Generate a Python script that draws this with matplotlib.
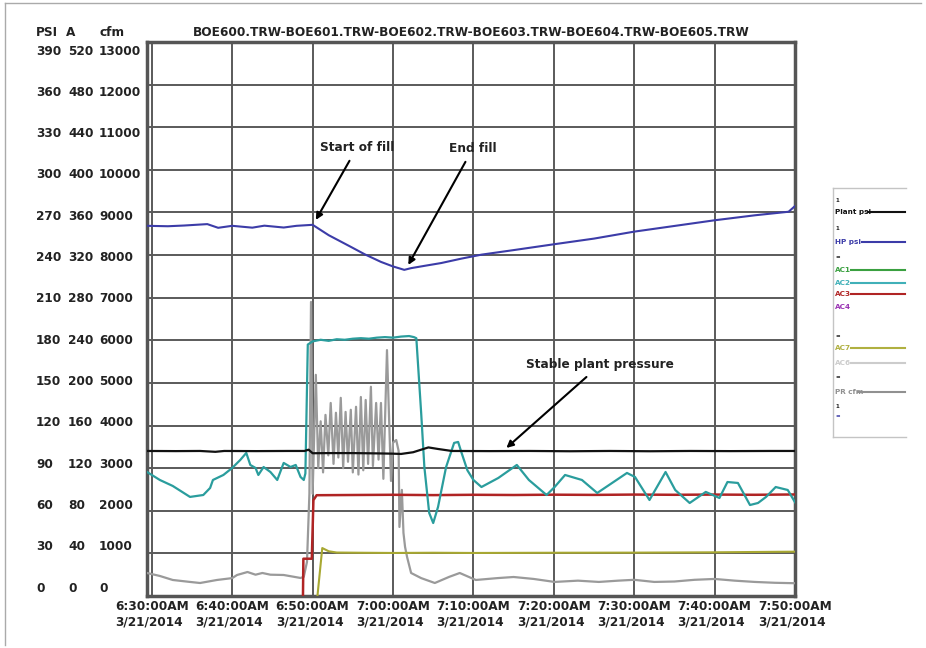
import matplotlib
matplotlib.use('Agg')
import matplotlib.pyplot as plt
import matplotlib.transforms as mtransforms
from matplotlib.lines import Line2D

# time axis: minutes after 6:30:00AM on 3/21/2014
tick_minutes = [0, 10, 20, 30, 40, 50, 60, 70, 80]
tick_times = ['6:30:00AM', '6:40:00AM', '6:50:00AM', '7:00:00AM', '7:10:00AM',
              '7:20:00AM', '7:30:00AM', '7:40:00AM', '7:50:00AM']
tick_date = '3/21/2014'
cfm_ticks = [13000, 12000, 11000, 10000, 9000, 8000, 7000, 6000, 5000, 4000, 3000, 2000, 1000, 0]
psi_labels = ['390', '360', '330', '300', '270', '240', '210', '180', '150', '120', '90', '60', '30', '0']
amp_labels = ['520', '480', '440', '400', '360', '320', '280', '240', '200', '160', '120', '80', '40', '0']
title = 'BOE600.TRW-BOE601.TRW-BOE602.TRW-BOE603.TRW-BOE604.TRW-BOE605.TRW'

# Plant psi (psi)
plant_t = [-0.6, 3, 6, 7.9, 9, 13, 17, 19, 19.5, 20, 22, 25, 28, 30, 31, 32.5, 34.4, 35.6, 37.3,
           42, 47, 52, 57, 62, 67, 72, 77, 80]
plant_psi = [102.1, 102.0, 102.1, 101.5, 102.1, 102.0, 102.1, 102.1, 103.0, 100.5, 100.6, 100.6,
             100.4, 100.2, 100.0, 101.2, 104.6, 103.5, 102.1, 102.0, 102.1, 101.9, 102.1, 101.9,
             102.1, 102.0, 102.1, 102.1]

# HP psi (psi)
hp_t = [-0.6, 2, 4, 6.9, 8.25, 10, 12.5, 14, 16.4, 18, 20, 22, 24.75, 26.5, 28.5, 30, 31.4,
        32.25, 34, 36, 38.5, 41, 45, 50, 55, 60, 65, 70, 75, 79.2, 80]
hp_psi = [260.6, 260.3, 260.8, 261.8, 259.2, 260.6, 259.3, 260.7, 259.4, 260.6, 261.3, 254.0,
          245.8, 240.5, 235.2, 232.0, 229.6, 230.8, 232.5, 234.4, 237.5, 240.3, 243.5, 247.6,
          251.6, 256.5, 260.5, 264.5, 268.0, 270.5, 274.5]

# AC2 (A)
ac2_t = [-0.6, 1.0, 2.6, 4.75, 6.4, 7.25, 7.6, 8.9, 10.0, 11.0, 11.75, 12.25, 12.9, 13.25, 13.9,
         14.75, 15.6, 16.4, 17.25, 17.9, 18.5, 18.9, 19.1, 19.4, 20, 21, 22, 23, 24, 25, 26, 27,
         28, 29, 30, 31, 32, 32.6, 32.9, 33.5, 33.9, 34.5, 35.0, 35.6, 36.6, 37.6, 38.1, 38.5,
         39.25, 40.0, 41.0, 43.1, 45.4, 46.9, 49.1, 50.1, 51.4, 53.5, 55.4, 57.25, 59.1, 60.1,
         61.9, 63.9, 65.1, 66.9, 68.9, 70.6, 71.6, 72.9, 74.4, 75.4, 76.4, 77.6, 79.1, 80]
ac2_amp = [116.4, 108.9, 103.3, 93.0, 94.8, 101.4, 108.9, 113.6, 120.2, 127.7, 134.3, 123.0,
           120.2, 113.6, 121.1, 116.4, 108.9, 124.9, 121.1, 123.0, 111.7, 108.9, 115.0, 236.0,
           239.0, 240.5, 239.5, 241.0, 240.5, 241.5, 242.0, 241.5, 242.5, 243.0, 242.5, 243.5,
           244.0, 243.0, 242.0, 172.0, 121.0, 78.0, 68.5, 83.6, 121.0, 143.7, 144.6, 135.0,
           118.0, 108.9, 102.3, 110.8, 123.0, 108.9, 94.8, 102.3, 113.6, 108.9, 96.7, 106.1,
           115.5, 111.7, 90.1, 116.4, 99.5, 87.3, 97.7, 92.0, 107.0, 106.1, 85.4, 87.3, 93.0,
           102.3, 99.5, 88.0]

# AC3 (A)
ac3_t = [18.8, 18.85, 19.9, 20.1, 20.5, 25, 30, 35, 40, 45, 50, 55, 60, 65, 70, 75, 80]
ac3_amp = [0, 35, 35, 90, 94.6, 94.8, 95.0, 94.7, 95.0, 94.8, 95.1, 94.9, 95.2, 95.0, 95.2, 95.0, 95.3]

# AC7 (A)
ac7_t = [20.6, 21.2, 22, 23, 26, 30, 35, 40, 50, 60, 70, 78, 80]
ac7_amp = [0, 45.0, 42.0, 40.8, 40.6, 40.4, 40.6, 40.4, 40.6, 40.7, 41.0, 41.5, 41.6]

# PR cfm (cfm)
pr_t = [-0.6, 1.0, 2.6, 4.75, 6.0, 8.1, 10.0, 10.6, 11.9, 12.9, 13.75, 14.75, 16.4, 18.5, 18.9,
        19.3, 19.6, 19.8, 20.0, 20.4, 20.7, 21.0, 21.3, 21.6, 21.95, 22.25, 22.6, 22.9, 23.2,
        23.5, 23.8, 24.1, 24.4, 24.75, 25.0, 25.4, 25.7, 26.0, 26.3, 26.6, 26.9, 27.25, 27.5,
        27.9, 28.2, 28.5, 28.8, 29.25, 29.75, 30.0, 30.4, 30.7, 30.8, 31.1, 31.3, 31.5, 31.75,
        32.25, 33.5, 35.2, 37.0, 38.3, 40.3, 43.0, 45.0, 47.5, 50.1, 53.0, 55.6, 58, 60, 62.5,
        65, 67.5, 70, 72.5, 75, 77.5, 80]
pr_cfm = [540, 470, 376, 330, 305, 376, 420, 493, 563, 500, 540, 500, 493, 423, 450,
          800, 2400, 6900, 2400, 5190, 3000, 4100, 2900, 4250, 3300, 4530, 3100, 4300, 3250,
          4650, 3000, 4320, 3150, 4370, 2900, 4440, 2850, 4670, 2950, 4600, 3100, 4910, 3050,
          4530, 3200, 4530, 2750, 5770, 2700, 3600, 3660, 3400, 1620, 2490, 1480, 1150, 915,
          540, 420, 305, 450, 540, 376, 420, 446, 400, 330, 360, 330, 360, 380, 330,
          340, 380, 400, 360, 330, 310, 300]

psi_to_cfm = 1000.0 / 30.0
amp_to_cfm = 1000.0 / 40.0

W, H = 926, 648
fig = plt.figure(figsize=(W / 100, H / 100), dpi=100)
plt.rcParams['font.family'] = 'DejaVu Sans'


def fx(x):
    return x / W


def fy(y):
    return 1 - y / H


ax = fig.add_axes([fx(147), fy(596), fx(795) - fx(147), fy(42) - fy(596)])
ax.set_xlim(-0.6, 80)
ax.set_ylim(0, 13000)
ax.set_xticks(tick_minutes)
ax.set_yticks(cfm_ticks)
ax.set_xticklabels([])
ax.set_yticklabels([])
ax.tick_params(length=0)
ax.grid(True, color='#5a5a5a', lw=1.4)
ax.set_axisbelow(True)
for s in ax.spines.values():
    s.set_color('#555555')
    s.set_linewidth(2.5)

ax.plot(pr_t, pr_cfm, color='#9a9a9a', lw=1.6, zorder=3)
ax.plot(ac7_t, [v * amp_to_cfm for v in ac7_amp], color='#a8a832', lw=1.5, zorder=3)
ax.plot(ac3_t, [v * amp_to_cfm for v in ac3_amp], color='#b02424', lw=1.8, zorder=3)
ax.plot(ac2_t, [v * amp_to_cfm for v in ac2_amp], color='#2a9d9d', lw=1.6, zorder=4)
ax.plot(plant_t, [v * psi_to_cfm for v in plant_psi], color='#111111', lw=1.6, zorder=4)
ax.plot(hp_t, [v * psi_to_cfm for v in hp_psi], color='#3c3ca8', lw=1.5, zorder=4)

bold = dict(fontweight='bold', fontsize=8.7, color='#222222')

# annotations
arrow = dict(arrowstyle='-|>', color='black', lw=1.5, mutation_scale=10, shrinkA=3, shrinkB=0)
ax.annotate('Start of fill', xy=(20.4, 8825), xytext=(25.5, 10515), ha='center', va='center',
            arrowprops=arrow, **bold)
ax.annotate('End fill', xy=(31.9, 7769), xytext=(39.9, 10491), ha='center', va='center',
            arrowprops=arrow, **bold)
ax.annotate('Stable plant pressure', xy=(44.1, 3474), xytext=(55.75, 5422), ha='center',
            va='center', arrowprops=arrow, **bold)

# title
fig.text(fx(471), fy(33), title, ha='center', va='center', **bold)

# y axis labels in three unit columns
fig.text(fx(36), fy(33), 'PSI', ha='left', va='center', **bold)
fig.text(fx(66), fy(33), 'A', ha='left', va='center', **bold)
fig.text(fx(99), fy(33), 'cfm', ha='left', va='center', **bold)
for v, p, a in zip(cfm_ticks, psi_labels, amp_labels):
    yl = 588 - v / 1000.0 * 41.3
    fig.text(fx(36), fy(yl), p, ha='left', va='center', **bold)
    fig.text(fx(68), fy(yl), a, ha='left', va='center', **bold)
    fig.text(fx(99), fy(yl), str(v), ha='left', va='center', **bold)

# x axis labels
trans = mtransforms.blended_transform_factory(ax.transData, fig.transFigure)
for m, t in zip(tick_minutes, tick_times):
    ax.text(m, fy(614), t + '\n' + tick_date, transform=trans, ha='center', va='center',
            multialignment='left', linespacing=1.3, clip_on=False, **bold)

# legend box on the right
lg = '#c4c4c4'
fig.add_artist(Line2D([fx(833), fx(833)], [fy(188), fy(437)], color=lg, lw=1))
fig.add_artist(Line2D([fx(833), fx(906)], [fy(188), fy(188)], color=lg, lw=1))
fig.add_artist(Line2D([fx(833), fx(906)], [fy(437), fy(437)], color=lg, lw=1))
entries = [
    ('1', '#222222', 200, False, None, 4),
    ('Plant psi', '#111111', 212, True, 868, 5.2),
    ('1', '#222222', 229, False, None, 4),
    ('HP psi', '#3c3ca8', 242, True, 862, 5.2),
    ('=', '#222222', 258, False, None, 4),
    ('AC1', '#3aa040', 270, False, 851, 5.2),
    ('AC2', '#40b0b8', 283, False, 851, 5.2),
    ('AC3', '#b02424', 294, False, 851, 5.2),
    ('AC4', '#9a34b4', 307, False, None, 5.2),
    ('=', '#222222', 337, False, None, 4),
    ('AC7', '#b0b040', 348, False, 851, 5.2),
    ('AC6', '#cccccc', 363, False, 851, 5.2),
    ('=', '#222222', 378, False, None, 4),
    ('PR cfm', '#909090', 392, False, 858, 5.2),
    ('1', '#222222', 407, False, None, 4),
    ('=', '#3c3ca8', 417, False, None, 4),
]
for label, col, yy, b, x0, fs in entries:
    fig.text(fx(835), fy(yy), label, ha='left', va='center', color=col, fontsize=fs,
             fontweight='bold')
    if x0 is not None:
        fig.add_artist(Line2D([fx(x0), fx(905)], [fy(yy), fy(yy)], color=col, lw=1.5))

# outer frame of the screenshot
fig.add_artist(Line2D([fx(5), fx(5)], [fy(3), fy(645)], color='#aaaaaa', lw=1))
fig.add_artist(Line2D([fx(5), fx(921)], [fy(3), fy(3)], color='#aaaaaa', lw=1))

plt.savefig('out.png', dpi=100)
